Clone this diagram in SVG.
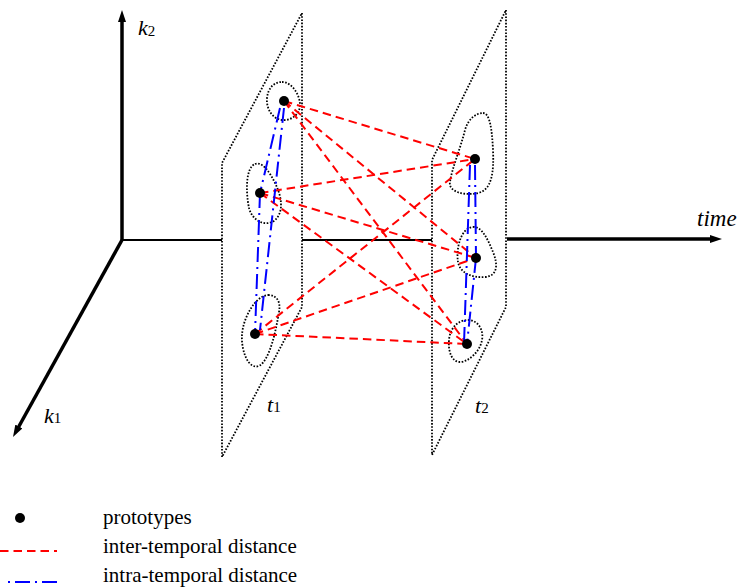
<svg xmlns="http://www.w3.org/2000/svg" width="741" height="587" viewBox="0 0 741 587">
<style>
.plane{fill:none;stroke:#000;stroke-width:1.8;stroke-dasharray:1.6 1.6}
.blob{fill:none;stroke:#000;stroke-width:1.8;stroke-dasharray:1.6 1.6}
.axis{stroke:#000;stroke-width:3.5;fill:none}
.thin{stroke:#000;stroke-width:2;fill:none}
.inter{stroke:#ff0000;stroke-width:2;stroke-dasharray:8.5 5;fill:none}
.intra{stroke:#0000ff;stroke-width:2;stroke-dasharray:15 5 2 5;fill:none}
.dot{fill:#000}
.lbl{font-family:"Liberation Serif","Times New Roman",serif;fill:#000}
.it{font-style:italic}
</style>
<defs>
<marker id="arr" viewBox="0 0 12 8" markerWidth="12" markerHeight="8" refX="4" refY="4" orient="auto" markerUnits="userSpaceOnUse">
<path d="M0,0 L12,4 L0,8 z" fill="#000"/>
</marker>
</defs>
<g id="axes">
<line class="axis" x1="122" y1="241" x2="122" y2="18" marker-end="url(#arr)"/>
<line class="axis" x1="122" y1="240" x2="16.9" y2="430" marker-end="url(#arr)"/>
<line class="thin" x1="122" y1="240" x2="222" y2="240"/>
<line class="thin" x1="302" y1="240" x2="432" y2="240"/>
<line class="axis" x1="507" y1="239" x2="714" y2="239" marker-end="url(#arr)"/>
</g>
<g id="plane-t1">
<path class="plane" d="M302,13 L302,307 L222,457 L222,163 Z"/>
</g>
<g id="plane-t2">
<path class="plane" d="M506,10 L506,307 L432,455 L432,160 Z"/>
</g>
<g id="clusters">
<path class="blob" d="M282,82 C292,82 300,95 300,105 C300,115 290,121 282,120 C272,119 266,108 267,98 C268,88 274,82 282,82 Z"/>
<path class="blob" d="M255,164 C262,161 270,172 276,185 C282,198 284,213 274,221 C264,227 252,220 249,208 C246,194 245,168 255,164 Z"/>
<path class="blob" d="M268,295 C277,295 281,302 279,312 C276,330 270,360 259,366 C248,370 241,350 242,335 C243,318 255,296 268,295 Z"/>
<path class="blob" d="M483,113 C490,113 492,130 493,150 C494,172 492,190 478,193 C465,196 448,192 450,182 C452,168 460,150 465,130 C468,119 476,113 483,113 Z"/>
<path class="blob" d="M473,227 C482,226 488,240 493,252 C498,264 498,276 485,277 C472,278 460,273 458,262 C456,250 460,228 473,227 Z"/>
<path class="blob" d="M468,320 C478,320 484,330 482,340 C480,352 468,362 460,362 C452,362 448,352 449,340 C450,328 458,320 468,320 Z"/>
</g>
<g id="connectors">
<line class="inter" x1="284" y1="101" x2="475" y2="159"/>
<line class="inter" x1="284" y1="101" x2="476" y2="258"/>
<line class="inter" x1="284" y1="101" x2="467" y2="344"/>
<line class="inter" x1="260" y1="193" x2="475" y2="159"/>
<line class="inter" x1="260" y1="193" x2="476" y2="258"/>
<line class="inter" x1="260" y1="193" x2="467" y2="344"/>
<line class="inter" x1="255" y1="334" x2="475" y2="159"/>
<line class="inter" x1="255" y1="334" x2="476" y2="258"/>
<line class="inter" x1="255" y1="334" x2="467" y2="344"/>
<line class="intra" x1="280" y1="108" x2="260" y2="193"/>
<line class="intra" x1="284" y1="108" x2="260" y2="330"/>
<line class="intra" x1="260" y1="193" x2="255" y2="334"/>
<line class="intra" x1="470" y1="165" x2="464" y2="344"/>
<line class="intra" x1="475" y1="165" x2="476" y2="258"/>
<line class="intra" x1="476" y1="258" x2="467" y2="344"/>
</g>
<g id="prototypes">
<circle class="dot" cx="284" cy="101" r="5"/>
<circle class="dot" cx="260" cy="193" r="5"/>
<circle class="dot" cx="255" cy="334" r="5"/>
<circle class="dot" cx="475" cy="159" r="5"/>
<circle class="dot" cx="476" cy="258" r="5"/>
<circle class="dot" cx="467" cy="344" r="5"/>
</g>
<g id="labels">
<text class="lbl" x="138" y="35" font-size="22"><tspan class="it">k</tspan><tspan font-size="15" dy="1">2</tspan></text>
<text class="lbl" x="44" y="423" font-size="22"><tspan class="it">k</tspan><tspan font-size="15">1</tspan></text>
<text class="lbl it" x="697" y="226" font-size="23">time</text>
<text class="lbl" x="267" y="412" font-size="22"><tspan class="it">t</tspan><tspan font-size="15">1</tspan></text>
<text class="lbl" x="475" y="413" font-size="22"><tspan class="it">t</tspan><tspan font-size="15">2</tspan></text>
</g>
<g id="legend">
<circle class="dot" cx="20" cy="518" r="5"/>
<line class="inter" x1="0" y1="551" x2="57" y2="551"/>
<line class="intra" x1="57" y1="582" x2="5" y2="582"/>
<text class="lbl" x="103" y="524" font-size="21">prototypes</text>
<text class="lbl" x="103" y="553" font-size="21">inter-temporal distance</text>
<text class="lbl" x="103" y="582" font-size="21">intra-temporal distance</text>
</g>
</svg>
